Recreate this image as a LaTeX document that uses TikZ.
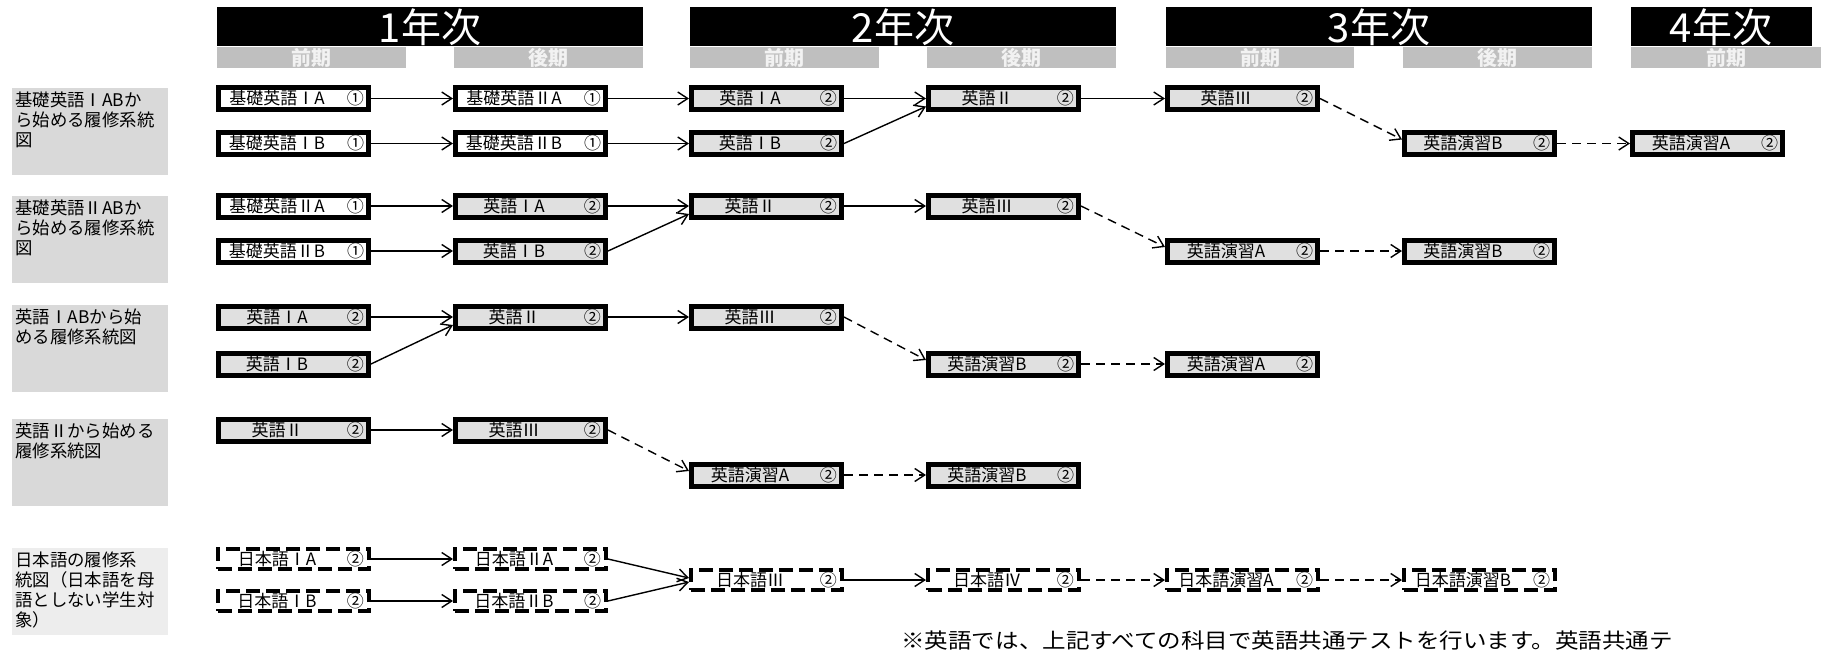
\documentclass[tikz,border=0pt]{standalone}
\usepackage{fontspec}
\setmainfont{Noto Sans CJK JP}
\newfontfamily\widejp[FakeStretch=1.12]{Noto Sans CJK JP}
\usetikzlibrary{arrows.meta,calc}
\definecolor{semgray}{HTML}{BFBFBF}
\definecolor{semtxt}{HTML}{F2F2F2}
\definecolor{lblgray}{HTML}{D9D9D9}
\definecolor{lblgrayb}{HTML}{EDEDED}
\definecolor{boxgray}{HTML}{E0E0E0}
\newcommand{\bt}[2]{\makebox[70.5pt][l]{\makebox[54pt][c]{#1}\hfill #2}}
\newcommand{\lt}[1]{\parbox[c][43.5pt][t]{75pt}{\raggedright\vspace*{1.5pt}#1}}
\tikzset{
  yeartext/.style={text=white, font=\fontsize{20pt}{22pt}\selectfont, inner sep=0pt},
  semtext/.style={text=semtxt, font=\fontsize{10pt}{11pt}\selectfont\bfseries, inner sep=0pt},
  crsbox/.style={draw, line width=2.5pt, minimum width=75pt, minimum height=11pt, inner sep=0pt, anchor=west, font=\fontsize{8.5pt}{9pt}\selectfont},
  kbox/.style={crsbox, fill=white},
  ebox/.style={crsbox, fill=boxgray},
  jbox/.style={crsbox, fill=white, line width=2pt, minimum width=75.5pt, minimum height=10pt, dash pattern=on 7pt off 3pt},
  lblbox/.style={fill=lblgray, anchor=north west, inner xsep=1.5pt, inner ysep=0pt, font=\fontsize{8.7pt}{10pt}\selectfont},
  arr/.style={line width=0.7pt, -{Straight Barb[length=5pt,width=6.5pt]}},
  darr/.style={arr, dash pattern=on 4.5pt off 3pt},
  notetext/.style={anchor=west, inner sep=0pt, font=\widejp\fontsize{10.5pt}{12pt}\selectfont}
}
\begin{document}
\begin{tikzpicture}[x=0.5pt,y=-0.5pt]
\useasboundingbox (0,0) rectangle (1821,653);
% year headers
\fill[black] (217,7) rectangle (643,46);
\fill[black] (690,7) rectangle (1116,46);
\fill[black] (1166,7) rectangle (1592,46);
\fill[black] (1631,7) rectangle (1812,46);
\node[yeartext] (y1) at (430,27) {1年次};
\node[yeartext] (y2) at (903,27) {2年次};
\node[yeartext] (y3) at (1379,27) {3年次};
\node[yeartext] (y4) at (1721,27) {4年次};
% semester bars
\fill[semgray] (217,47) rectangle (406,68);
\fill[semgray] (454,47) rectangle (643,68);
\fill[semgray] (690,47) rectangle (879,68);
\fill[semgray] (927,47) rectangle (1116,68);
\fill[semgray] (1166,47) rectangle (1354,68);
\fill[semgray] (1403,47) rectangle (1592,68);
\fill[semgray] (1631,47) rectangle (1821,68);
\node[semtext] (s1) at (311,57.5) {前期};
\node[semtext] (s2) at (548,57.5) {後期};
\node[semtext] (s3) at (784,57.5) {前期};
\node[semtext] (s4) at (1021,57.5) {後期};
\node[semtext] (s5) at (1260,57.5) {前期};
\node[semtext] (s6) at (1497,57.5) {後期};
\node[semtext] (s7) at (1726,57.5) {前期};
% row labels
\node[lblbox] (L1) at (12,88) {\lt{基礎英語ⅠABか\\ら始める履修系統\\図}};
\node[lblbox] (L2) at (12,196) {\lt{基礎英語ⅡABか\\ら始める履修系統\\図}};
\node[lblbox] (L3) at (12,305) {\lt{英語ⅠABから始\\める履修系統図}};
\node[lblbox] (L4) at (12,419) {\lt{英語Ⅱから始める\\履修系統図}};
\node[lblbox, fill=lblgrayb] (L5) at (12,548) {\lt{日本語の履修系\\統図（日本語を母\\語としない学生対\\象）}};
% row 1
\node[kbox] (a11) at (216,98.5) {\bt{基礎英語ⅠA}{①}};
\node[kbox] (a12) at (453,98.5) {\bt{基礎英語ⅡA}{①}};
\node[ebox] (a13) at (689,98.5) {\bt{英語ⅠA}{②}};
\node[ebox] (a14) at (926,98.5) {\bt{英語Ⅱ}{②}};
\node[ebox] (a15) at (1165,98.5) {\bt{英語Ⅲ}{②}};
\node[kbox] (b11) at (216,143.5) {\bt{基礎英語ⅠB}{①}};
\node[kbox] (b12) at (453,143.5) {\bt{基礎英語ⅡB}{①}};
\node[ebox] (b13) at (689,143.5) {\bt{英語ⅠB}{②}};
\node[ebox] (b16) at (1402,143.5) {\bt{英語演習B}{②}};
\node[ebox] (b17) at (1630,143.5) {\bt{英語演習A}{②}};
\draw[arr] (a11.east) -- (a12.west);
\draw[arr] (b11.east) -- (b12.west);
\draw[arr] (a12.east) -- (a13.west);
\draw[arr] (b12.east) -- (b13.west);
\draw[arr] (a13.east) -- (a14.west);
\draw[arr] (b13.east) -- ([yshift=-4pt]a14.west);
\draw[arr] (a14.east) -- (a15.west);
\draw[darr] (a15.east) -- ([yshift=2pt]b16.west);
\draw[darr] (b16.east) -- (b17.west);
% row 2
\node[kbox] (a21) at (216,206) {\bt{基礎英語ⅡA}{①}};
\node[ebox] (a22) at (453,206) {\bt{英語ⅠA}{②}};
\node[ebox] (a23) at (689,206) {\bt{英語Ⅱ}{②}};
\node[ebox] (a24) at (926,206) {\bt{英語Ⅲ}{②}};
\node[kbox] (b21) at (216,251) {\bt{基礎英語ⅡB}{①}};
\node[ebox] (b22) at (453,251) {\bt{英語ⅠB}{②}};
\node[ebox] (b25) at (1165,251) {\bt{英語演習A}{②}};
\node[ebox] (b26) at (1402,251) {\bt{英語演習B}{②}};
\draw[arr] (a21.east) -- (a22.west);
\draw[arr] (b21.east) -- (b22.west);
\draw[arr] (a22.east) -- (a23.west);
\draw[arr] (b22.east) -- ([yshift=-4pt]a23.west);
\draw[arr] (a23.east) -- (a24.west);
\draw[darr] (a24.east) -- ([yshift=2pt]b25.west);
\draw[darr] (b25.east) -- (b26.west);
% row 3
\node[ebox] (a31) at (216,317) {\bt{英語ⅠA}{②}};
\node[ebox] (a32) at (453,317) {\bt{英語Ⅱ}{②}};
\node[ebox] (a33) at (689,317) {\bt{英語Ⅲ}{②}};
\node[ebox] (b31) at (216,364) {\bt{英語ⅠB}{②}};
\node[ebox] (b34) at (926,364) {\bt{英語演習B}{②}};
\node[ebox] (b35) at (1165,364) {\bt{英語演習A}{②}};
\draw[arr] (a31.east) -- (a32.west);
\draw[arr] (b31.east) -- ([yshift=-4pt]a32.west);
\draw[arr] (a32.east) -- (a33.west);
\draw[darr] (a33.east) -- ([yshift=2pt]b34.west);
\draw[darr] (b34.east) -- (b35.west);
% row 4
\node[ebox] (a41) at (216,430) {\bt{英語Ⅱ}{②}};
\node[ebox] (a42) at (453,430) {\bt{英語Ⅲ}{②}};
\node[ebox] (b43) at (689,475) {\bt{英語演習A}{②}};
\node[ebox] (b44) at (926,475) {\bt{英語演習B}{②}};
\draw[arr] (a41.east) -- (a42.west);
\draw[darr] (a42.east) -- ([yshift=2pt]b43.west);
\draw[darr] (b43.east) -- (b44.west);
% row 5
\node[jbox] (a51) at (216,559) {\bt{日本語ⅠA}{②}};
\node[jbox] (a52) at (453,559) {\bt{日本語ⅡA}{②}};
\node[jbox] (b51) at (216,601) {\bt{日本語ⅠB}{②}};
\node[jbox] (b52) at (453,601) {\bt{日本語ⅡB}{②}};
\node[jbox] (m53) at (689,580) {\bt{日本語Ⅲ}{②}};
\node[jbox] (m54) at (926,580) {\bt{日本語Ⅳ}{②}};
\node[jbox] (m55) at (1165,580) {\bt{日本語演習A}{②}};
\node[jbox] (m56) at (1402,580) {\bt{日本語演習B}{②}};
\draw[arr] (a51.east) -- (a52.west);
\draw[arr] (b51.east) -- (b52.west);
\draw[arr] (a52.east) -- ([yshift=1pt]m53.west);
\draw[arr] (b52.east) -- ([yshift=-1pt]m53.west);
\draw[arr] (m53.east) -- (m54.west);
\draw[darr] (m54.east) -- (m55.west);
\draw[darr] (m55.east) -- (m56.west);
% note
\node[notetext] (note) at (901,641) {※英語では、上記すべての科目で英語共通テストを行います。英語共通テ};
\end{tikzpicture}
\end{document}
